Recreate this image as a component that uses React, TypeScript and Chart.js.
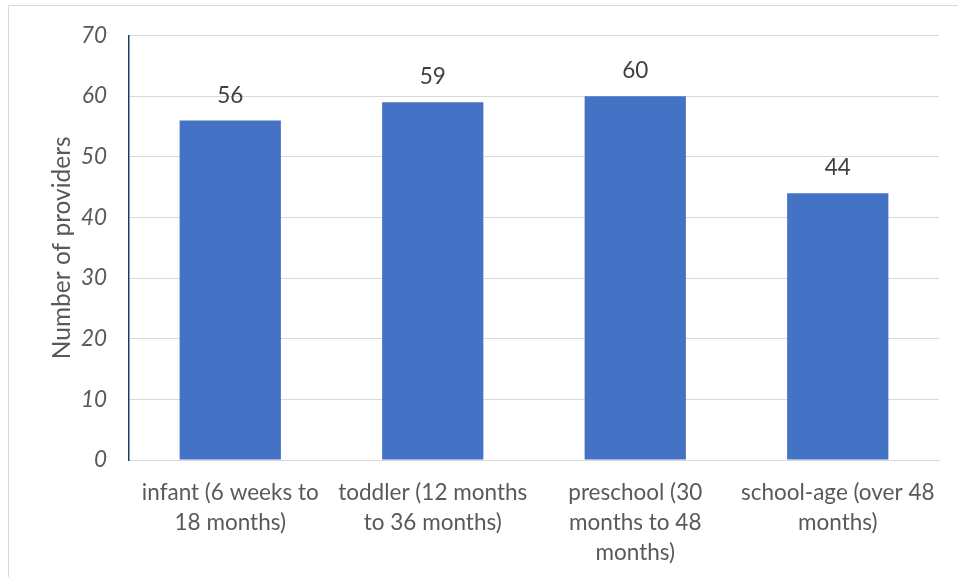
import React, { useEffect, useRef } from "react";
import { Chart, registerables } from "chart.js";

Chart.register(...registerables);

const categories: string[][] = [
  ["infant (6 weeks to", "18 months)"],
  ["toddler (12 months", "to 36 months)"],
  ["preschool (30", "months to 48", "months)"],
  ["school-age (over 48", "months)"],
];
const providers: number[] = [56, 59, 60, 44];
const yTicks: number[] = [0, 10, 20, 30, 40, 50, 60, 70];

const FONT = "Lato, 'Noto Sans', sans-serif";

const frame = {
  id: "frame",
  beforeDraw(chart: any) {
    const ctx = chart.ctx;
    ctx.save();
    ctx.fillStyle = "#ffffff";
    ctx.fillRect(0, 0, chart.width, chart.height);
    ctx.strokeStyle = "#D9D9D9";
    ctx.lineWidth = 1;
    ctx.beginPath();
    ctx.moveTo(8.5, chart.height + 2);
    ctx.lineTo(8.5, 5.5);
    ctx.lineTo(chart.width + 2, 5.5);
    ctx.stroke();
    ctx.restore();
  },
};

const valueLabels = {
  id: "valueLabels",
  afterDatasetsDraw(chart: any) {
    const ctx = chart.ctx;
    const meta = chart.getDatasetMeta(0);
    ctx.save();
    ctx.font = `22.5px ${FONT}`;
    ctx.fillStyle = "#404040";
    ctx.textAlign = "center";
    ctx.textBaseline = "middle";
    meta.data.forEach((bar: any, i: number) => {
      ctx.fillText(String(chart.data.datasets[0].data[i]), bar.x, bar.y - 25);
    });
    ctx.restore();
  },
};

export default function App() {
  const ref = useRef<HTMLCanvasElement | null>(null);
  useEffect(() => {
    document.body.style.margin = "0";
    if (!ref.current) return;
    const chart = new Chart(ref.current, {
      type: "bar",
      data: {
        labels: categories,
        datasets: [
          {
            data: providers,
            backgroundColor: "#4472C4",
            borderWidth: 0,
            barPercentage: 0.5,
            categoryPercentage: 1,
          },
        ],
      },
      options: {
        responsive: false,
        animation: false,
        layout: { padding: { left: 0, right: 19, top: 32, bottom: 0 } },
        plugins: { legend: { display: false }, tooltip: { enabled: false } },
        scales: {
          x: {
            grid: { display: false, drawTicks: false },
            border: { display: true, color: "#D9D9D9", width: 1 },
            ticks: {
              color: "#595959",
              font: { family: FONT, size: 22.5, lineHeight: 1.333 },
              padding: 18,
              maxRotation: 0,
              autoSkip: false,
            },
            afterFit: (s: any) => {
              s.height = 117;
            },
          },
          y: {
            min: 0,
            max: 70,
            afterBuildTicks: (s: any) => {
              s.ticks = yTicks.map((v) => ({ value: v }));
            },
            grid: { color: "#D9D9D9", lineWidth: 1, drawTicks: false },
            border: { display: true, color: "#1F3864", width: 1.5 },
            ticks: {
              color: "#595959",
              font: { family: FONT, size: 22.5, style: "italic" },
              padding: 22,
            },
            title: {
              display: true,
              text: "Number of providers",
              color: "#595959",
              font: { family: FONT, size: 24.5 },
              padding: { top: 47, bottom: 0 },
            },
            afterFit: (s: any) => {
              s.width = 129;
            },
          },
        },
      },
      plugins: [frame, valueLabels],
    });
    return () => chart.destroy();
  }, []);
  return <canvas ref={ref} width={958} height={577} style={{ display: "block" }} />;
}
